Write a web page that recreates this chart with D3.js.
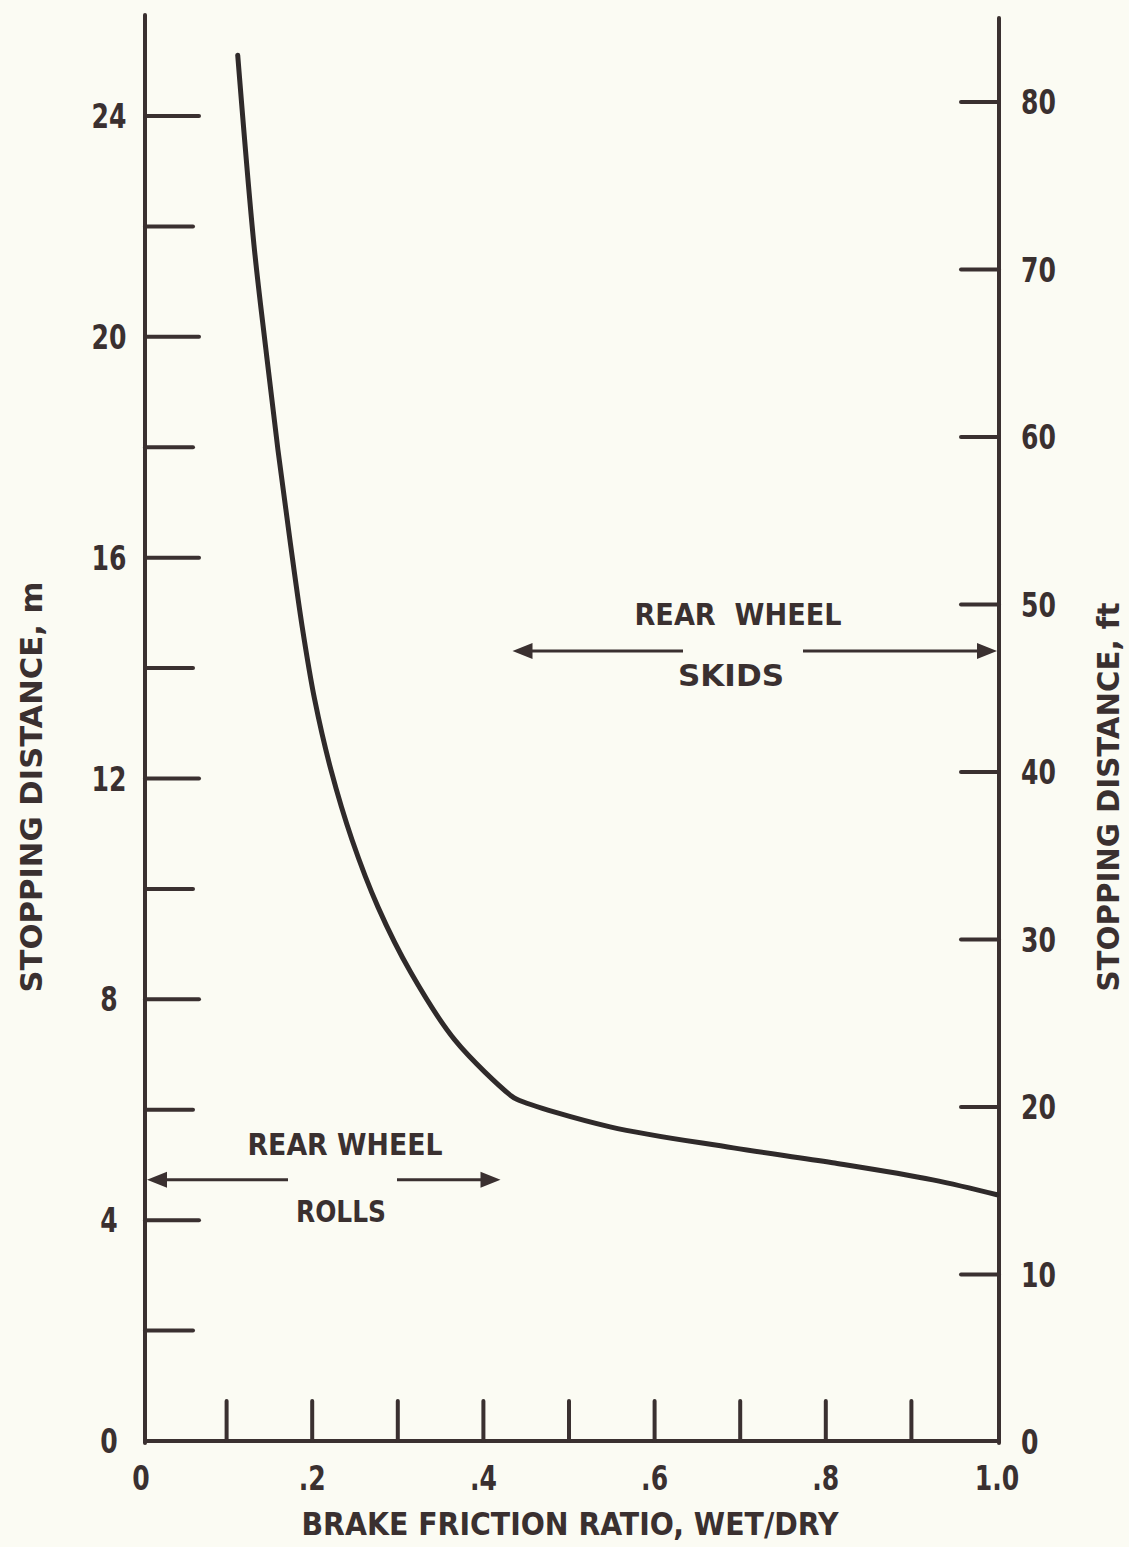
<!DOCTYPE html>
<html>
<head>
<meta charset="utf-8">
<script src="https://cdn.jsdelivr.net/npm/d3@7"></script>
<style>
  html, body { margin: 0; padding: 0; background: #fbfbf3; }
  svg { display: block; }
  text { font-family: "Liberation Sans Narrow", "DejaVu Sans Condensed", "Liberation Sans", sans-serif; font-weight: bold; fill: #3a3030; }
</style>
</head>
<body>
<script>
// ---- data ----
const frictionRatio = [0.113, 0.132, 0.146, 0.160, 0.174, 0.188, 0.203, 0.222, 0.2465, 0.2769, 0.3154, 0.3668, 0.431, 0.439, 0.548, 0.692, 0.808, 0.925, 1.0];
const stoppingDistM = [25.10, 21.66, 19.76, 17.95, 16.32, 14.78, 13.42, 12.15, 10.89, 9.67, 8.48, 7.26, 6.27, 6.19, 5.69, 5.31, 5.04, 4.73, 4.46];
const xTicks = [0, 0.1, 0.2, 0.3, 0.4, 0.5, 0.6, 0.7, 0.8, 0.9, 1.0];
const xTickLabels = ["0", "", ".2", "", ".4", "", ".6", "", ".8", "", "1.0"];
const yMTicks = [0, 2, 4, 6, 8, 10, 12, 14, 16, 18, 20, 22, 24];
const yMLabels = ["0", "", "4", "", "8", "", "12", "", "16", "", "20", "", "24"];
const yFtTicks = [0, 10, 20, 30, 40, 50, 60, 70, 80];
const yFtLabels = ["0", "10", "20", "30", "40", "50", "60", "70", "80"];
const skidsRange = [0.434, 1.0];
const rollsRange = [0.0, 0.42];

const W = 1129, H = 1547;
const ink = "#3a3030";
const svg = d3.select("body").append("svg").attr("width", W).attr("height", H);
svg.append("rect").attr("width", W).attr("height", H).attr("fill", "#fbfbf3");

const x = d3.scaleLinear().domain([0, 1]).range([141, 997]);
const yM = d3.scaleLinear().domain([0, 24]).range([1441, 116]);
const yFt = d3.scaleLinear().domain([0, 80]).range([1442, 102]);

const leftX = 145, rightX = 999;

// axis lines
svg.append("line").attr("x1", leftX).attr("x2", leftX).attr("y1", 15).attr("y2", 1443)
  .attr("stroke", ink).attr("stroke-width", 4).attr("stroke-linecap", "round");
svg.append("line").attr("x1", rightX).attr("x2", rightX).attr("y1", 18).attr("y2", 1443)
  .attr("stroke", ink).attr("stroke-width", 4).attr("stroke-linecap", "round");
svg.append("line").attr("x1", leftX).attr("x2", rightX).attr("y1", 1441).attr("y2", 1441)
  .attr("stroke", ink).attr("stroke-width", 4).attr("stroke-linecap", "round");

function label(g, px, py, txt, anchor) {
  g.append("text").attr("transform", `translate(${px},${py}) scale(0.82,1)`)
    .attr("text-anchor", anchor).attr("font-size", 34).text(txt);
}

// left ticks (m)
svg.append("g").selectAll("line").data(yMTicks.filter(d => d > 0)).join("line")
  .attr("x1", leftX).attr("x2", d => d % 4 === 0 ? leftX + 54 : leftX + 48)
  .attr("y1", d => yM(d)).attr("y2", d => yM(d))
  .attr("stroke", ink).attr("stroke-width", 4).attr("stroke-linecap", "round");
const gl = svg.append("g");
yMTicks.forEach((d, i) => { if (yMLabels[i]) label(gl, 109, yM(d) + 12, yMLabels[i], "middle"); });

// right ticks (ft)
svg.append("g").selectAll("line").data(yFtTicks.filter(d => d > 0)).join("line")
  .attr("x1", rightX).attr("x2", rightX - 38)
  .attr("y1", d => yFt(d)).attr("y2", d => yFt(d))
  .attr("stroke", ink).attr("stroke-width", 4).attr("stroke-linecap", "round");
const gr = svg.append("g");
yFtTicks.forEach((d, i) => label(gr, 1021, yFt(d) + 12, yFtLabels[i], "start"));

// bottom ticks
svg.append("g").selectAll("line").data(xTicks.filter(d => d > 0 && d < 1)).join("line")
  .attr("x1", d => x(d)).attr("x2", d => x(d))
  .attr("y1", 1441).attr("y2", 1401)
  .attr("stroke", ink).attr("stroke-width", 4).attr("stroke-linecap", "round");
const gb = svg.append("g");
xTicks.forEach((d, i) => { if (xTickLabels[i]) label(gb, x(d), 1490, xTickLabels[i], "middle"); });

// curve
const line = d3.line().x(d => x(d[0])).y(d => yM(d[1])).curve(d3.curveCatmullRom.alpha(0.5));
svg.append("path").datum(frictionRatio.map((f, i) => [f, stoppingDistM[i]]))
  .attr("d", line).attr("fill", "none").attr("stroke", "#2f2a2a")
  .attr("stroke-width", 5).attr("stroke-linecap", "round").attr("stroke-linejoin", "round");

// axis titles
svg.append("text").attr("x", 570).attr("y", 1535).attr("text-anchor", "middle")
  .attr("font-size", 32).attr("textLength", 537).attr("lengthAdjust", "spacingAndGlyphs")
  .text("BRAKE FRICTION RATIO, WET/DRY");
svg.append("text").attr("transform", "translate(42,787) rotate(-90)").attr("text-anchor", "middle")
  .attr("font-size", 31).attr("textLength", 411).attr("lengthAdjust", "spacingAndGlyphs")
  .text("STOPPING DISTANCE, m");
svg.append("text").attr("transform", "translate(1119,797) rotate(-90)").attr("text-anchor", "middle")
  .attr("font-size", 31).attr("textLength", 389).attr("lengthAdjust", "spacingAndGlyphs")
  .text("STOPPING DISTANCE, ft");

// annotation arrows
function arrowHead(px, py, dir) {
  const L = 20, h = 8;
  svg.append("path")
    .attr("d", `M${px},${py} L${px - dir * L},${py - h} L${px - dir * L},${py + h} Z`)
    .attr("fill", ink);
}
function hseg(x1, x2, py) {
  svg.append("line").attr("x1", x1).attr("x2", x2).attr("y1", py).attr("y2", py)
    .attr("stroke", ink).attr("stroke-width", 3);
}
// skids
const ySk = yM(14.31);
hseg(x(skidsRange[0]) + 10, 683, ySk);
hseg(803, x(skidsRange[1]) - 8, ySk);
arrowHead(x(skidsRange[0]), ySk, -1);
arrowHead(x(skidsRange[1]), ySk, 1);
svg.append("text").attr("x", 738).attr("y", 625).attr("text-anchor", "middle").attr("font-size", 31)
  .attr("textLength", 207).attr("lengthAdjust", "spacingAndGlyphs").text("REAR\u00A0\u00A0WHEEL");
svg.append("text").attr("x", 731).attr("y", 686).attr("text-anchor", "middle").attr("font-size", 31)
  .attr("textLength", 106).attr("lengthAdjust", "spacingAndGlyphs").text("SKIDS");
// rolls
const yRo = yM(4.73);
hseg(x(rollsRange[0]) + 14, 288, yRo);
hseg(397, x(rollsRange[1]) - 10, yRo);
arrowHead(leftX + 2, yRo, -1);
arrowHead(x(rollsRange[1]), yRo, 1);
svg.append("text").attr("x", 345).attr("y", 1155).attr("text-anchor", "middle").attr("font-size", 31)
  .attr("textLength", 195).attr("lengthAdjust", "spacingAndGlyphs").text("REAR WHEEL");
svg.append("text").attr("x", 341).attr("y", 1222).attr("text-anchor", "middle").attr("font-size", 31)
  .attr("textLength", 90).attr("lengthAdjust", "spacingAndGlyphs").text("ROLLS");
</script>
</body>
</html>
